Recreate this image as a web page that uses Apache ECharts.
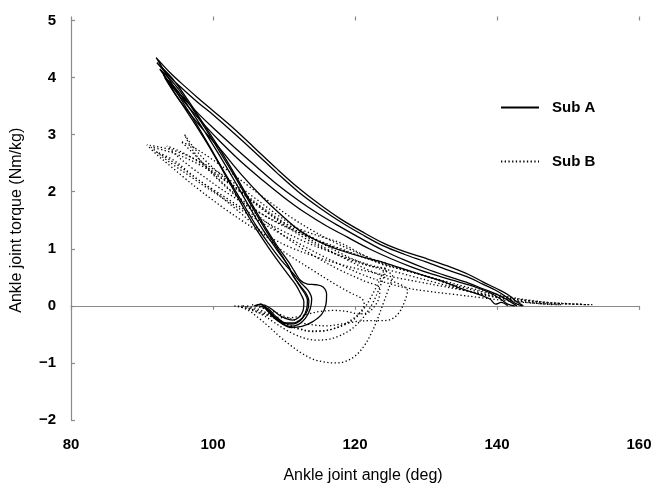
<!DOCTYPE html>
<html>
<head>
<meta charset="utf-8">
<script src="https://cdn.jsdelivr.net/npm/echarts@6/dist/echarts.min.js"></script>
<style>
  html, body { margin: 0; padding: 0; background: #fff; }
  #main { width: 660px; height: 489px; }
</style>
</head>
<body>
<div id="main"></div>
<script>
// axis ticks
var xTicks = [80, 100, 120, 140, 160];
var yTicks = [-2, -1, 0, 1, 2, 3, 4, 5];

// Sub A loops: [ankle angle (deg), torque (Nm/kg)]
var subA1 = [[106.0,0],[106.8,0.03],[107.6,-0.05],[108.6,-0.18],[109.7,-0.3],[110.8,-0.36],[112,-0.33],[113,-0.22],[113.7,-0.05],[113.9,0.12],[113.4,0.27],[112.4,0.4],[111.2,0.58],[109.6,0.8],[107.9,1.08],[106.1,1.4],[104.1,1.82],[101.8,2.3],[99.5,2.8],[97.5,3.22],[95.5,3.62],[93.6,4.02],[92,4.35],
  [94,4.08],[96,3.85],[98,3.63],[100,3.42],[103,3.1],[106,2.75],[109,2.4],[112,2.07],[115,1.78],[118,1.52],[121,1.3],[124,1.1],[127,0.95],[130,0.83],[133,0.7],[136,0.55],[138,0.42],[140,0.3],[141.5,0.2],[142.5,0.1],[143.7,0]];
var subA2 = [[106.5,0],[107.5,-0.05],[108.5,-0.2],[109.8,-0.32],[111,-0.38],[112.5,-0.36],[114,-0.28],[115.3,-0.15],[115.9,0.02],[116,0.2],[115.5,0.33],[114.5,0.37],[113.3,0.38],[112.3,0.45],[111.5,0.6],[110.7,0.76],[109.1,1.04],[107.4,1.37],[105.4,1.8],[103.1,2.3],[100.7,2.8],[98.6,3.2],[96.5,3.6],[94.3,3.98],[92.1,4.26],
  [94,4.0],[96,3.77],[98,3.55],[100,3.35],[103,3.02],[106,2.68],[109,2.33],[112,2.0],[115,1.72],[118,1.47],[121,1.25],[124,1.05],[127,0.9],[130,0.77],[133,0.63],[136,0.5],[138,0.38],[140,0.26],[141.5,0.14],[142.5,0.05],[143.5,0]];
var subA3 = [[106.8,0],[107.8,-0.05],[108.8,-0.18],[109.8,-0.28],[110.8,-0.32],[111.8,-0.3],[112.7,-0.2],[113.2,-0.05],[113.3,0.1],[112.9,0.22],[112.2,0.35],[111.2,0.55],[110.6,0.7],[109.1,1.0],[107.4,1.33],[105.4,1.76],[103.1,2.26],[100.8,2.73],[98.8,3.13],[96.7,3.53],[94.6,3.88],[92.5,4.15],
  [94,3.9],[96,3.62],[98,3.36],[100,3.12],[103,2.78],[106,2.45],[109,2.13],[112,1.85],[115,1.6],[118,1.38],[121,1.17],[124,0.97],[127,0.8],[130,0.65],[133,0.52],[136,0.4],[138,0.3],[140,0.2],[141.5,0.1],[142.8,0]];
var subA4 = [[107.2,0.02],[108.2,-0.05],[109.2,-0.15],[110.2,-0.22],[111.2,-0.25],[112.1,-0.2],[112.7,-0.08],[112.8,0.07],[112.4,0.2],[111.6,0.38],[110.5,0.56],[109.3,0.76],[107.6,1.06],[105.8,1.4],[103.8,1.83],[101.6,2.32],[99.5,2.78],[97.5,3.18],[95.5,3.56],[94,3.85],[93,4.05],
  [95,3.72],[97,3.42],[99,3.14],[101,2.88],[104,2.52],[107,2.2],[110,1.9],[113,1.63],[116,1.4],[119,1.2],[122,1.0],[125,0.83],[128,0.68],[131,0.55],[134,0.44],[137,0.33],[139,0.23],[140.5,0.12],[141.5,0.03],[142.5,0]];
var subA5 = [[105.8,0],[106.7,0.03],[107.6,-0.08],[108.8,-0.22],[110,-0.3],[111.3,-0.3],[112.5,-0.22],[113.3,-0.08],[113.5,0.08],[113.1,0.22],[112.3,0.35],[111.3,0.52],[110.6,0.7],[108.9,1.0],[107,1.34],[105,1.76],[102.8,2.24],[100.7,2.68],[98.7,3.08],[96.7,3.46],[94.8,3.8],[93.2,4.0],
  [95,3.65],[97,3.33],[99,3.03],[101,2.75],[104,2.3],[107,1.9],[110,1.55],[112.3,1.31],[115,1.12],[118,0.97],[121,0.86],[123.5,0.78],[127,0.64],[130,0.52],[133,0.4],[135,0.3],[137,0.22],[139,0.12],[139.8,0.03],[140.6,0.06],[141.5,0]];

// Sub B loops
var subB1 = [[103.5,0],[105,-0.08],[106.5,-0.22],[108,-0.38],[109.5,-0.55],[111,-0.7],[112.5,-0.83],[114,-0.93],[115.5,-0.98],[117,-1.0],[118.5,-0.98],[120,-0.88],[121.3,-0.7],[122.3,-0.48],[123.2,-0.22],[124,0.05],[124.8,0.32],[125.3,0.52],
  [124,0.62],[121,0.75],[118,0.92],[115,1.12],[112,1.35],[109,1.6],[106,1.88],[103,2.15],[100,2.4],[97,2.6],[94,2.74],[90.7,2.82],
  [92,2.66],[94,2.45],[96,2.24],[98,2.04],[100,1.85],[102,1.67],[104,1.5],[106,1.34],[108,1.2],[111,1.02],[114,0.88],[117,0.76],[120,0.66],[123,0.57],[126,0.49],[129,0.42],[132,0.35],[135,0.28],[138,0.21],[141,0.14],[144,0.09],[147,0.05],[150,0.03],[153.5,0.02]];
var subB2 = [[104,0],[105.5,-0.06],[107,-0.16],[108.5,-0.28],[110,-0.4],[111.5,-0.5],[113,-0.57],[114.5,-0.6],[116,-0.59],[117.5,-0.54],[119,-0.45],[120.3,-0.32],[121.5,-0.15],[122.5,0.05],[123.4,0.3],[124.2,0.55],[124.4,0.64],
  [122,0.7],[119,0.82],[116,0.98],[113,1.18],[110,1.42],[107,1.7],[104,1.98],[101,2.25],[98,2.48],[95,2.65],[93,2.73],[91.3,2.78],
  [93,2.6],[95,2.42],[97,2.25],[99,2.08],[101,1.92],[103,1.76],[105,1.6],[107,1.45],[109,1.3],[112,1.1],[115,0.9],[118,0.72],[121,0.55],[124,0.42],[127,0.32],[130,0.26],[134,0.2],[138,0.14],[142,0.08],[146,0.04],[149,0.02]];
var subB3 = [[104.8,0],[106.2,-0.05],[107.8,-0.14],[109.5,-0.26],[111,-0.36],[112.5,-0.42],[114,-0.45],[115.5,-0.44],[117,-0.4],[118.5,-0.32],[119.8,-0.22],[120.8,-0.1],[121.3,0.02],[121,0.12],
  [119.5,0.22],[117.9,0.33],[116,0.47],[114.1,0.62],[111.8,0.8],[109.4,1.0],[107.5,1.22],[105.5,1.45],[103,1.72],[100,2.02],[97,2.3],[94.5,2.55],[92,2.7],
  [94,2.55],[96,2.38],[98,2.2],[100,2.04],[102,1.88],[104,1.72],[106,1.57],[108,1.43],[110,1.3],[113,1.12],[116,0.97],[119,0.84],[122,0.72],[125,0.62],[128,0.52],[131,0.42],[134,0.32],[137,0.23],[140,0.15],[143,0.08],[146,0.04],[148,0.02]];
var subB4 = [[105.5,0.02],[107,-0.04],[108.5,-0.1],[110,-0.18],[111.5,-0.25],[113,-0.31],[114.5,-0.34],[116,-0.35],[117.5,-0.33],[119,-0.3],[120.5,-0.27],[122,-0.26],[123.5,-0.26],[125,-0.24],[126.2,-0.12],[127,0.08],[127.4,0.26],
  [125,0.45],[122,0.62],[119,0.8],[116,1.0],[113,1.22],[110,1.46],[107,1.72],[104,2.0],[101,2.27],[98,2.52],[95.5,2.7],[93.5,2.8],
  [95,2.62],[97,2.42],[99,2.24],[101,2.06],[103,1.9],[105,1.74],[107,1.6],[109,1.47],[112,1.3],[115,1.14],[118,1.0],[121,0.86],[124,0.73],[127,0.62],[130,0.52],[133,0.42],[136,0.32],[139,0.23],[142,0.15],[145,0.09],[148,0.05],[151,0.03],[153,0.02]];
var subB5 = [[103,0],[104.5,-0.04],[106,-0.1],[107.5,-0.16],[109,-0.2],[110.5,-0.21],[112,-0.19],[113.5,-0.14],[115,-0.1],[117,-0.08],[119,-0.1],[120.5,-0.14],[121.8,-0.12],[122.8,0.0],[123.4,0.15],[123.5,0.3],
  [121,0.45],[118,0.62],[115,0.82],[112,1.05],[109,1.32],[106,1.62],[103,1.95],[100,2.3],[98,2.58],[96.8,2.8],[96,3.0],
  [97,2.82],[98.5,2.6],[100,2.42],[102,2.2],[104,2.0],[106,1.78],[108,1.6],[110,1.45],[112.5,1.33],[115,1.22],[118,1.1],[121,0.9],[124,0.72],[127.7,0.61],[131,0.48],[134.8,0.3],[138,0.2],[141,0.12],[144,0.07],[147,0.03],[149,0.02]];
var subB6 = [[104.2,0],[105.8,-0.06],[107.4,-0.14],[109,-0.24],[110.6,-0.33],[112.2,-0.4],[113.8,-0.44],[115.4,-0.44],[117,-0.4],[118.6,-0.33],[120,-0.22],[121.2,-0.06],[122.2,0.14],[123.2,0.38],[124,0.6],[124.5,0.72],
  [122.5,0.82],[120,0.95],[117,1.12],[114,1.32],[111,1.55],[108,1.82],[105,2.1],[102,2.38],[99.5,2.6],[97.5,2.76],[95.5,2.88],
  [97,2.7],[99,2.45],[101,2.2],[103,1.97],[105,1.77],[107,1.6],[109,1.46],[111,1.34],[114,1.18],[117,1.03],[120,0.9],[123,0.78],[126,0.67],[129,0.56],[132,0.44],[135,0.33],[138,0.24],[141,0.16],[144,0.1],[147,0.06],[150,0.04],[152,0.03]];

var loopsA = [subA1, subA2, subA3, subA4, subA5];
var loopsB = [subB1, subB2, subB3, subB4, subB5, subB6];

var chartDom = document.getElementById('main');
var myChart = echarts.init(chartDom, null, { renderer: 'canvas' });

var fontFam = '"Liberation Sans", Arial, sans-serif';
var axisGray = '#8a8a8a';

function loopSeries(name, data, dotted) {
  return {
    name: name,
    type: 'line',
    xAxisIndex: 0,
    data: data,
    smooth: 0.35,
    symbol: 'none',
    showSymbol: false,
    silent: true,
    itemStyle: { color: '#000' },
    lineStyle: dotted
      ? { color: '#000', width: 1.3, type: [1.3, 2.4] }
      : { color: '#000', width: 1.3, type: 'solid' }
  };
}

var series = [];
loopsA.forEach(function (d) { series.push(loopSeries('Sub A', d, false)); });
loopsB.forEach(function (d) { series.push(loopSeries('Sub B', d, true)); });

var option = {
  animation: false,
  textStyle: { fontFamily: fontFam },
  grid: { left: 71, right: 21, top: 20.5, bottom: 67 },
  legend: {
    data: ['Sub A', 'Sub B'],
    orient: 'vertical',
    left: 495,
    top: 95,
    itemWidth: 38,
    itemHeight: 14,
    itemGap: 39,
    itemStyle: { opacity: 0 },
    textStyle: { fontFamily: fontFam, fontSize: 15, fontWeight: 'bold', color: '#000', padding: [0, 0, 0, 8] }
  },
  xAxis: [
    {
      type: 'value', min: xTicks[0], max: xTicks[xTicks.length - 1], interval: 20,
      position: 'bottom',
      axisLine: { show: false, onZero: false },
      axisTick: { show: false },
      splitLine: { show: false },
      axisLabel: { color: '#000', fontSize: 15, fontWeight: 'bold', fontFamily: fontFam, margin: 17 },
      name: 'Ankle joint angle (deg)',
      nameLocation: 'middle',
      nameGap: 48,
      nameTextStyle: { color: '#000', fontSize: 16, fontFamily: fontFam, padding: [0, 0, 0, 16] }
    },
    {
      type: 'value', min: xTicks[0], max: xTicks[xTicks.length - 1], interval: 20,
      position: 'bottom',
      axisLine: { show: true, onZero: true, lineStyle: { color: axisGray, width: 1.2 } },
      axisTick: { show: true, length: 4, lineStyle: { color: axisGray, width: 1.2 } },
      splitLine: { show: false },
      axisLabel: { show: false }
    },
    {
      type: 'value', min: xTicks[0], max: xTicks[xTicks.length - 1], interval: 20,
      position: 'top',
      axisLine: { show: false, onZero: true },
      axisTick: { show: true, length: 4, lineStyle: { color: axisGray, width: 1.2 } },
      splitLine: { show: false },
      axisLabel: { show: false }
    }
  ],
  yAxis: {
    type: 'value', min: yTicks[0], max: yTicks[yTicks.length - 1], interval: 1,
    axisLine: { show: true, onZero: false, lineStyle: { color: axisGray, width: 1.2 } },
    axisTick: { show: true, inside: true, length: 4, lineStyle: { color: axisGray, width: 1.2 } },
    splitLine: { show: false },
    axisLabel: {
      color: '#000', fontSize: 15, fontWeight: 'bold', fontFamily: fontFam, margin: 15,
      formatter: function (v) { return String(v).replace('-', '\u2212'); }
    },
    name: 'Ankle joint torque (Nm/kg)',
    nameLocation: 'middle',
    nameGap: 46,
    nameTextStyle: { color: '#000', fontSize: 16, fontFamily: fontFam }
  },
  series: series
};

option && myChart.setOption(option);
</script>
</body>
</html>
